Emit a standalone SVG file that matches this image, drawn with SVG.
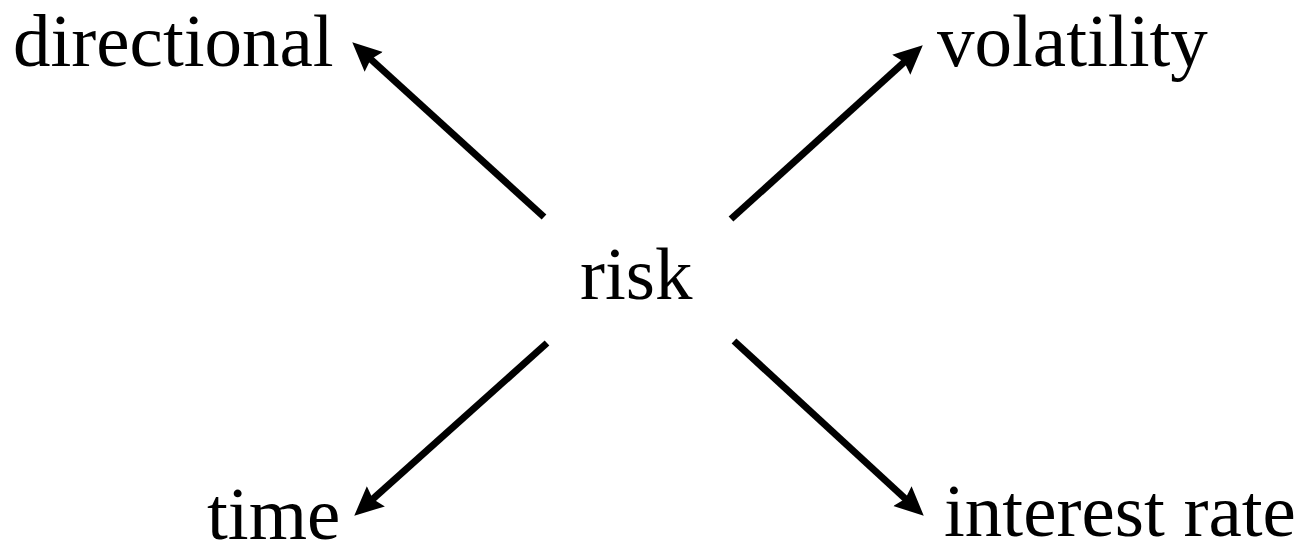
<svg xmlns="http://www.w3.org/2000/svg" width="1298" height="548" viewBox="0 0 1298 548">
<style>
text{font-family:"Liberation Serif","Times New Roman",serif;font-size:75px;fill:#000}
.c{stroke:#000;stroke-width:7;fill:none}
</style>
<defs>
<marker id="ah" markerUnits="userSpaceOnUse" markerWidth="32" markerHeight="32" viewBox="0 0 32 32" refX="8" refY="16" orient="auto">
<path d="M0,2.5 L29,16 L0,29.5 L4,16 Z" fill="#000"/>
</marker>
</defs>
<g id="connectors">
<line class="c" x1="544" y1="217" x2="367.8" y2="56.5" marker-end="url(#ah)"/>
<line class="c" x1="731" y1="219" x2="907.2" y2="59.4" marker-end="url(#ah)"/>
<line class="c" x1="547" y1="343" x2="369.9" y2="501.7" marker-end="url(#ah)"/>
<line class="c" x1="734" y1="341" x2="908.3" y2="501.5" marker-end="url(#ah)"/>
</g>
<g id="risk"><text x="580" y="299">risk</text></g>
<g id="directional"><text x="13" y="66">directional</text></g>
<g id="volatility"><text x="937" y="66">volatility</text></g>
<g id="time"><text x="207" y="539">time</text></g>
<g id="interest-rate"><text x="944" y="536" font-size="73">interest rate</text></g>
</svg>
